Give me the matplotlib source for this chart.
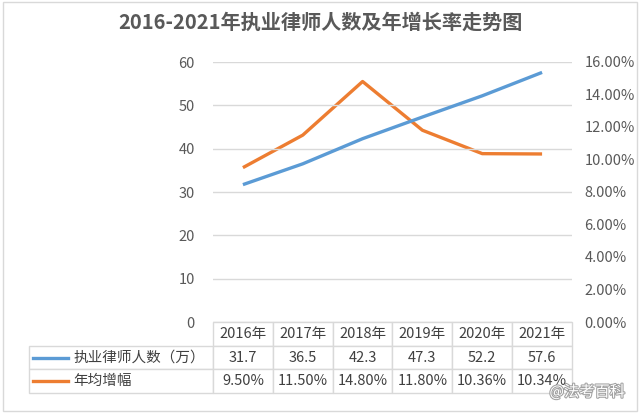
import matplotlib.pyplot as plt
import matplotlib.patches as patches
import matplotlib.patheffects as pe
from matplotlib.table import Table
import numpy as np

plt.rcParams['font.family'] = ['Noto Sans CJK SC', 'DejaVu Sans']
plt.rcParams['font.size'] = 10

# data
years = ['2016年', '2017年', '2018年', '2019年', '2020年', '2021年']
lawyers = [31.7, 36.5, 42.3, 47.3, 52.2, 57.6]
growth = [9.50, 11.50, 14.80, 11.80, 10.36, 10.34]
series_names = ['执业律师人数（万）', '年均增幅']
blue = '#5B9BD5'
orange = '#ED7D31'
grey_txt = '#595959'

W, H = 640, 415
fig = plt.figure(figsize=(W / 100, H / 100), dpi=100)

# outer chart frame
fig.patches.append(patches.Rectangle((3 / W, 4 / H), 634 / W, 409 / H, transform=fig.transFigure,
                                     fill=False, edgecolor='#d9d9d9', linewidth=1))

# plot area in pixels
left, right, top, bottom = 213, 572, 62, 322
ax = fig.add_axes([left / W, (H - bottom) / H, (right - left) / W, (bottom - top) / H])
ax2 = ax.twinx()

x = np.arange(len(years))
ax.plot(x, lawyers, color=blue, linewidth=2.4, solid_capstyle='butt', zorder=3)
ax2.plot(x, growth, color=orange, linewidth=2.4, solid_capstyle='butt', zorder=3)

ax.set_xlim(-0.5, len(years) - 0.5)
ax.set_ylim(0, 60)
ax.set_yticks(range(0, 61, 10))
ax2.set_ylim(0, 16)
ax2.set_yticks(range(0, 17, 2))
ax2.set_yticklabels([f'{v:.2f}%' for v in range(0, 17, 2)])
ax.set_xticks([])
ax.yaxis.grid(True, color='#d9d9d9', linewidth=1)
ax.set_axisbelow(True)
for a in (ax, ax2):
    for s in a.spines.values():
        s.set_visible(False)
ax.tick_params(axis='y', length=0, pad=13, labelcolor=grey_txt, labelsize=10.5)
ax2.tick_params(axis='y', length=0, pad=9, labelcolor=grey_txt, labelsize=10.5)

ax.set_zorder(ax2.get_zorder() + 1)
ax.patch.set_visible(False)

# data table under the plot (bbox covers the year columns only)
label_w = (left - 29) / (right - left)
tab_h = 71 / (bottom - top)
tb = Table(ax, bbox=[0, -tab_h, 1, tab_h])
col_w = 1 / len(years)
row_h = tab_h / 3
edge = '#d9d9d9'
txt = '#404040'

c = tb.add_cell(0, -1, label_w, row_h, text='')
c.visible_edges = ''
for j, yr in enumerate(years):
    tb.add_cell(0, j, col_w, row_h, text=yr, loc='center')

rows = [[f'{v:.1f}' for v in lawyers], [f'{v:.2f}%' for v in growth]]
for i, (name, vals) in enumerate(zip(series_names, rows), start=1):
    c = tb.add_cell(i, -1, label_w, row_h, text=name, loc='left')
    c.PAD = 44 / (left - 29)
    for j, v in enumerate(vals):
        tb.add_cell(i, j, col_w, row_h, text=v, loc='center')

for cell in tb.get_celld().values():
    cell.set_edgecolor(edge)
    cell.set_linewidth(1)
    cell.get_text().set_color(txt)
tb.auto_set_font_size(False)
tb.set_fontsize(10.5)
ax.add_table(tb)

# legend keys in the row label cells
for i, col in enumerate([blue, orange], start=1):
    yc = -tab_h * (i + 0.5) / 3
    ax.plot([(33 - left) / (right - left), (68 - left) / (right - left)], [yc, yc],
            color=col, linewidth=2.4, clip_on=False, transform=ax.transAxes, zorder=5)

fig.text(0.5, 1 - 22 / H, '2016-2021年执业律师人数及年增长率走势图', ha='center', va='center',
         fontsize=14.5, fontweight='bold', color=grey_txt)

# watermark
fig.text(1 - 15 / W, 1 - 392 / H, '@法考百科', ha='right', va='center', fontsize=11, color='white',
         path_effects=[pe.withStroke(linewidth=1.5, foreground='#a0a0a0')])

plt.savefig('out.png', dpi=100)
